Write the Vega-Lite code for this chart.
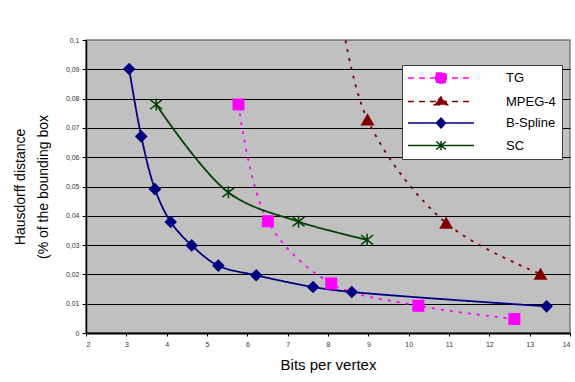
{
  "$schema": "https://vega.github.io/schema/vega-lite/v6.json",
  "width": 484,
  "height": 293,
  "autosize": {"type": "none"},
  "padding": {"left": 86, "top": 40, "right": 5, "bottom": 49},
  "background": "white",
  "config": {
    "font": "Liberation Sans",
    "view": {"fill": "#C0C0C0", "stroke": "#808080", "strokeWidth": 1.5}
  },
  "data": {
    "values": [
      {"series": "TG", "x": 5.78, "y": 0.078},
      {"series": "TG", "x": 6.51, "y": 0.0381},
      {"series": "TG", "x": 8.08, "y": 0.0169},
      {"series": "TG", "x": 10.24, "y": 0.0093},
      {"series": "TG", "x": 12.62, "y": 0.0048},
      {"series": "MPEG-4", "x": 8.25, "y": 0.115},
      {"series": "MPEG-4", "x": 8.98, "y": 0.0728},
      {"series": "MPEG-4", "x": 10.93, "y": 0.0375},
      {"series": "MPEG-4", "x": 13.27, "y": 0.0201},
      {"series": "B-Spline", "x": 3.07, "y": 0.0901},
      {"series": "B-Spline", "x": 3.37, "y": 0.0671},
      {"series": "B-Spline", "x": 3.71, "y": 0.0491},
      {"series": "B-Spline", "x": 4.10, "y": 0.0379},
      {"series": "B-Spline", "x": 4.62, "y": 0.0299},
      {"series": "B-Spline", "x": 5.28, "y": 0.023},
      {"series": "B-Spline", "x": 6.22, "y": 0.0197},
      {"series": "B-Spline", "x": 7.63, "y": 0.0157},
      {"series": "B-Spline", "x": 8.59, "y": 0.014},
      {"series": "B-Spline", "x": 13.42, "y": 0.0091},
      {"series": "SC", "x": 3.74, "y": 0.078},
      {"series": "SC", "x": 5.53, "y": 0.048},
      {"series": "SC", "x": 7.27, "y": 0.038},
      {"series": "SC", "x": 8.97, "y": 0.0318}
    ]
  },
  "encoding": {
    "x": {
      "field": "x", "type": "quantitative",
      "scale": {"domain": [2, 14], "nice": false, "zero": false},
      "axis": {
        "values": [2, 3, 4, 5, 6, 7, 8, 9, 10, 11, 12, 13, 14],
        "grid": false, "tickSize": 3, "tickColor": "black",
        "domainColor": "black", "domainWidth": 2,
        "labelFontSize": 7, "labelColor": "#333333", "labelPadding": 4,
        "title": "Bits per vertex", "titleFontSize": 15, "titleFontWeight": "normal",
        "titleColor": "black", "titlePadding": 10
      }
    },
    "y": {
      "field": "y", "type": "quantitative",
      "scale": {"domain": [0, 0.1], "nice": false},
      "axis": {
        "values": [0, 0.01, 0.02, 0.03, 0.04, 0.05, 0.06, 0.07, 0.08, 0.09, 0.1],
        "labelExpr": "replace(format(datum.value, '.2~f'), '.', ',')",
        "grid": true,
        "gridColor": {"condition": {"test": "datum.value >= 0.099", "value": "#808080"}, "value": "black"},
        "gridWidth": 1,
        "domainColor": "black", "domainWidth": 1.5,
        "tickColor": "black", "tickSize": 4,
        "labelFontSize": 7, "labelColor": "#333333", "labelPadding": 3,
        "title": ["Hausdorff distance", "(% of the bounding box"],
        "titleFontSize": 14, "titleFontWeight": "normal", "titleColor": "black",
        "titleLineHeight": 23, "titlePadding": 15
      }
    }
  },
  "layer": [
    {
      "mark": {"type": "line", "interpolate": "catmull-rom", "clip": true, "strokeWidth": 1.8},
      "encoding": {
        "color": {
          "field": "series", "type": "nominal",
          "scale": {"domain": ["TG", "MPEG-4", "B-Spline", "SC"], "range": ["#FF00FF", "#800000", "#000080", "#004000"]},
          "legend": {
            "orient": "none", "legendX": 316, "legendY": 25,
            "title": null, "direction": "vertical",
            "fillColor": "white", "strokeColor": "#404040",
            "padding": 6,
            "labelFont": "Liberation Sans", "labelFontSize": 13, "labelColor": "black",
            "symbolSize": 144, "symbolOffset": 26, "labelOffset": 58,
            "rowPadding": 6.5,
            "encode": {
              "symbols": {
                "update": {
                  "shape": {"signal": "datum.value === 'TG' ? 'M-5.5,0L5.5,0M-0.85,-0.85L0.85,-0.85L0.85,0.85L-0.85,0.85Z' : datum.value === 'MPEG-4' ? 'M-5.5,0L5.5,0M-1.1,0.55L1.1,0.55L0,-0.75Z' : datum.value === 'B-Spline' ? 'M-5.5,0L5.5,0M0,-0.83L0.75,0L0,0.83L-0.75,0Z' : 'M-5.5,0L5.5,0M-0.8,-0.67L0.8,0.67M-0.8,0.67L0.8,-0.67M0,-0.75L0,0.75'"},
                  "fill": {"signal": "datum.value === 'TG' ? '#FF00FF' : datum.value === 'MPEG-4' ? '#800000' : datum.value === 'B-Spline' ? '#000080' : 'transparent'"},
                  "stroke": {"signal": "datum.value === 'TG' ? '#FF00FF' : datum.value === 'MPEG-4' ? '#800000' : datum.value === 'B-Spline' ? '#000080' : '#004000'"},
                  "strokeDash": {"signal": "(datum.value === 'TG' || datum.value === 'MPEG-4') ? [6, 5] : [1, 0]"},
                  "strokeWidth": {"value": 1.5},
                  "opacity": {"value": 1},
                  "size": {"value": 144}
                }
              },
              "legend": {"update": {"strokeWidth": {"value": 1}}}
            }
          }
        },
        "strokeDash": {
          "condition": {"test": "datum.series === 'TG' || datum.series === 'MPEG-4'", "value": [3, 6]},
          "value": [1, 0]
        }
      }
    },
    {
      "mark": {"type": "point", "filled": true, "clip": true, "opacity": 1, "strokeWidth": 1.5},
      "encoding": {
        "fill": {
          "condition": [
            {"test": "datum.series === 'TG'", "value": "#FF00FF"},
            {"test": "datum.series === 'MPEG-4'", "value": "#800000"},
            {"test": "datum.series === 'B-Spline'", "value": "#000080"}
          ],
          "value": "#004000"
        },
        "stroke": {
          "condition": [
            {"test": "datum.series === 'TG'", "value": "#FF00FF"},
            {"test": "datum.series === 'MPEG-4'", "value": "#800000"},
            {"test": "datum.series === 'B-Spline'", "value": "#000080"}
          ],
          "value": "#004000"
        },
        "shape": {
          "condition": [
            {"test": "datum.series === 'TG'", "value": "square"},
            {"test": "datum.series === 'MPEG-4'", "value": "triangle-up"},
            {"test": "datum.series === 'B-Spline'", "value": "diamond"}
          ],
          "value": "M-1,-0.8L1,0.8M-1,0.8L1,-0.8M0,-1L0,1"
        },
        "size": {
          "condition": [
            {"test": "datum.series === 'TG'", "value": 110},
            {"test": "datum.series === 'MPEG-4'", "value": 130},
            {"test": "datum.series === 'B-Spline'", "value": 110}
          ],
          "value": 144
        }
      }
    }
  ]
}
